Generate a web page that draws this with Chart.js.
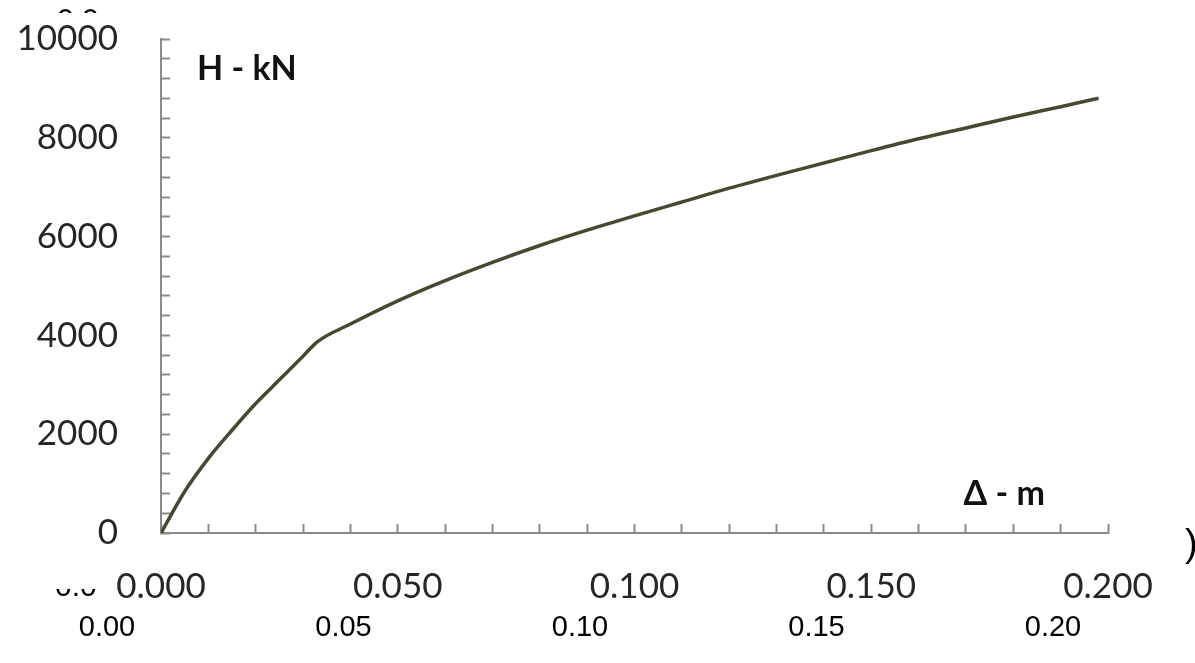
<!DOCTYPE html>
<html>
<head>
<meta charset="utf-8">
<script src="https://cdn.jsdelivr.net/npm/chart.js@4.4.1/dist/chart.umd.min.js"></script>
<style>
  html, body { margin: 0; padding: 0; background: #fff; }
  #wrap { position: relative; width: 1195px; height: 663px; overflow: hidden; }
  #chart { position: absolute; left: 0; top: 0; }
  .frag { position: absolute; overflow: hidden; font-family: "Liberation Sans", Arial, sans-serif; color: #000; }
  .frag span { position: absolute; left: 0; white-space: nowrap; }
</style>
</head>
<body>
<div id="wrap">
  <canvas id="chart" width="1195" height="663"></canvas>
  <!-- bits of an outer axis that peek out around the plot -->
  <div class="frag" style="left:57px;top:0;width:44px;height:13px;"><span style="top:4px;font-size:30px;line-height:30px;">0.0</span></div>
  <div class="frag" style="left:55px;top:589px;width:44px;height:10px;"><span style="top:-18px;font-size:30px;line-height:30px;">0.0</span></div>
  <div class="frag" style="left:1185px;top:520px;width:10px;height:50px;"><span style="top:4px;font-size:38px;line-height:38px;">)</span></div>
</div>
<script>
// pushover curve: lateral displacement (m) vs horizontal load (kN)
const deltaM = [0, 0.005, 0.010, 0.015, 0.020, 0.025, 0.030, 0.033, 0.040, 0.050,
                0.060, 0.070, 0.080, 0.090, 0.100, 0.110, 0.120, 0.130, 0.140,
                0.150, 0.160, 0.170, 0.180, 0.190, 0.198];
const loadKN = [0, 840, 1510, 2080, 2620, 3100, 3580, 3870, 4230, 4700,
                5110, 5480, 5820, 6130, 6420, 6700, 6980, 7240, 7490,
                7740, 7980, 8200, 8420, 8630, 8800];

// outer (second) x axis labels under the plot
const outerTicks = [0, 0.05, 0.10, 0.15, 0.20];

const yName = 'H - kN';
const xName = 'Δ - m';

const axisGrey = '#8a8a8a';
const labelCol = '#262626';

// chart.js adds tick padding to the label overflow, which shifts the plot; keep it fixed
function noOverflow(s) {
  s.paddingTop = 0;
  s.paddingBottom = 0;
  s.paddingLeft = 0;
  s.paddingRight = 0;
}

// axis names sit inside the plot, like the spreadsheet original
const axisNames = {
  id: 'axisNames',
  afterDraw(chart) {
    const { ctx, chartArea: a } = chart;
    ctx.save();
    ctx.fillStyle = '#111';
    ctx.font = 'bold 34px Lato, sans-serif';
    ctx.textBaseline = 'alphabetic';
    ctx.textAlign = 'left';
    ctx.fillText(yName, a.left + 36, a.top + 41);
    ctx.textAlign = 'right';
    ctx.fillText(xName, a.right - 63, a.bottom - 28);
    ctx.restore();
  }
};

new Chart(document.getElementById('chart'), {
  type: 'scatter',
  data: {
    datasets: [{
      data: deltaM.map((d, i) => ({ x: d, y: loadKN[i] })),
      showLine: true,
      borderColor: '#4a4731',
      borderWidth: 3.5,
      pointRadius: 0,
      cubicInterpolationMode: 'monotone',
      xAxisID: 'x',
      yAxisID: 'y'
    }]
  },
  options: {
    responsive: false,
    animation: false,
    layout: { padding: { top: 39, right: 87, left: 0, bottom: 0 } },
    plugins: { legend: { display: false }, tooltip: { enabled: false } },
    scales: {
      x: {
        type: 'linear',
        position: 'bottom',
        weight: 0,
        min: 0,
        max: 0.2,
        afterFit: s => { s.height = 72; noOverflow(s); },
        border: { display: true, color: axisGrey, width: 2 },
        grid: { display: true, drawOnChartArea: false, drawTicks: true, tickLength: -9, tickColor: axisGrey, tickWidth: 2 },
        ticks: {
          stepSize: 0.01,
          autoSkip: false,
          maxRotation: 0,
          padding: 42,
          color: labelCol,
          font: { family: 'Lato', size: 35 },
          callback: v => (Math.round(v * 100) % 5 === 0 ? v.toFixed(3) : '')
        }
      },
      x2: {
        type: 'linear',
        position: 'bottom',
        weight: 1,
        min: 0.011416,
        max: 0.211628,
        afterBuildTicks: s => { s.ticks = outerTicks.map(v => ({ value: v })); },
        afterFit: s => { s.height = 58; noOverflow(s); },
        border: { display: false },
        grid: { display: false },
        ticks: {
          autoSkip: false,
          maxRotation: 0,
          padding: -2,
          color: '#000',
          font: { family: 'Liberation Sans', size: 29 },
          callback: v => v.toFixed(2)
        }
      },
      y: {
        type: 'linear',
        position: 'left',
        min: 0,
        max: 10000,
        afterFit: s => { s.width = 161; noOverflow(s); },
        border: { display: true, color: axisGrey, width: 2 },
        grid: { display: true, drawOnChartArea: false, drawTicks: true, tickLength: -9, tickColor: axisGrey, tickWidth: 2 },
        ticks: {
          stepSize: 400,
          autoSkip: false,
          padding: 52,
          color: labelCol,
          font: { family: 'Lato', size: 35 },
          callback: v => (v % 2000 === 0 ? String(v) : '')
        }
      }
    }
  },
  plugins: [axisNames]
});
</script>
</body>
</html>
